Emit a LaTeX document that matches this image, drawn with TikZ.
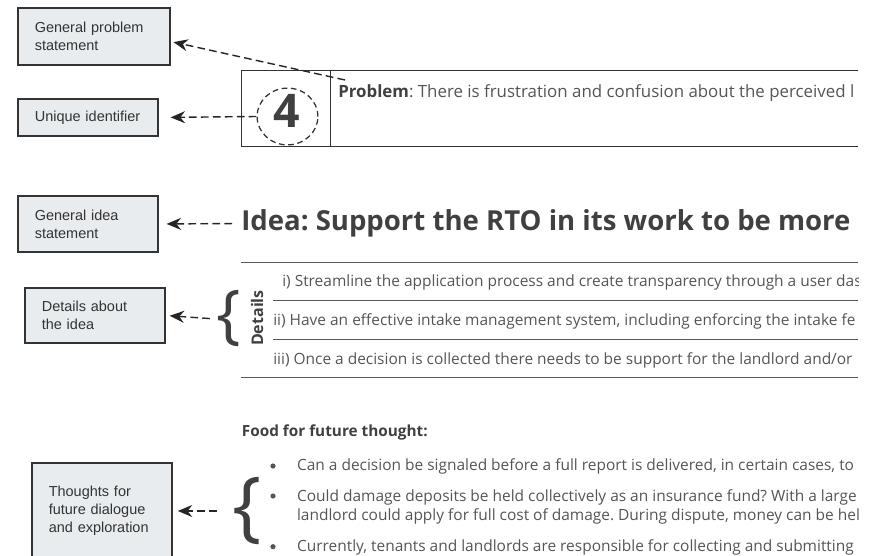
\documentclass[tikz,border=0pt]{standalone}
\usepackage{fontspec}
\setmainfont{Open Sans}
\newfontfamily\arialfont{Liberation Sans}
\usetikzlibrary{arrows.meta,shapes.geometric}
\frenchspacing

\definecolor{grigiobox}{RGB}{233,236,239}
\definecolor{bordo}{RGB}{51,51,51}
\definecolor{titolo}{RGB}{64,64,64}
\definecolor{corpo}{RGB}{85,85,85}
\definecolor{grigioriga}{RGB}{90,90,90}

\tikzset{
  riquadro/.style={draw=bordo, fill=grigiobox, line width=0.9pt, align=left,
    inner xsep=0.42cm, text width=2.66cm, text=bordo,
    font=\arialfont\fontsize{10.3}{12.8}\selectfont},
  freccia/.style={-{Stealth[length=3.6mm,width=3mm]}, line width=1pt,
    dash pattern=on 5.5pt off 3pt, draw=black!85},
  riga/.style={draw=grigioriga, line width=0.7pt},
  testo/.style={anchor=base west, inner sep=0, text=corpo,
    font=\fontsize{11}{13}\selectfont}
}

\begin{document}
\begin{tikzpicture}
    \useasboundingbox (0,0) rectangle (22.05,13.875);
    \clip (0,0) rectangle (22.05,13.875);

    % riquadri di spiegazione a sinistra
    \node[riquadro, text width=2.96cm, minimum height=1.425cm] (gps) at (2.35,12.9625) {General problem statement};
    \node[riquadro, minimum height=0.925cm] (uid) at (2.2,10.9375) {Unique identifier};
    \node[riquadro, minimum height=1.4cm] (gis) at (2.2,8.275) {General idea\\statement};
    \node[riquadro, minimum height=1.375cm] (dai) at (2.375,5.9875) {Details about\\the idea};
    \node[riquadro, minimum height=2.4cm] (tfd) at (2.55,1.1) {Thoughts for\\future dialogue\\and exploration};

    % tabella del problema
    \draw[riga, draw=bordo] (21.45,12.1075)--(6.025,12.1075)--(6.025,10.2075)--(21.45,10.2075);
    \draw[riga, draw=bordo] (8.25,12.1075)--(8.25,10.2075);
    \node[ellipse, draw=bordo, line width=0.9pt, dash pattern=on 4pt off 2.6pt,
        minimum width=1.52cm, minimum height=1.42cm] (circ) at (7.1875,10.9625) {};
    \node[inner sep=0, text=titolo, font=\bfseries\fontsize{33}{36}\selectfont] (num) at (7.16,11.11) {4};

    % tabella dei dettagli
    \draw[riga] (6.025,7.325)--(21.45,7.325);
    \draw[riga] (6.825,6.3625)--(21.45,6.3625);
    \draw[riga] (6.825,5.4)--(21.45,5.4);
    \draw[riga] (6.025,4.4375)--(21.45,4.4375);
    \node[rotate=90, anchor=base, inner sep=0, text=titolo, font=\bfseries\fontsize{11.4}{13}\selectfont] (det) at (6.575,5.925) {Details};

    % parentesi graffe
    \node[inner sep=0, text=titolo, font=\fontsize{46}{48}\selectfont] (br1) at (5.7125,5.9) {\{};
    \node[inner sep=0, text=titolo, font=\fontsize{55}{58}\selectfont] (br2) at (6.1875,1.1) {\{};

    %punti elenco
    \foreach \y in {2.225,1.475,0.2075}
        \fill[corpo] (6.825,\y) circle (0.065);

    % testi a destra
    \begin{scope}
    \clip (0,0) rectangle (21.45,13.875);
    \node[testo, font=\fontsize{12}{14}\selectfont] (prob) at (8.45,11.44) {\textcolor{titolo}{\textbf{Problem}}: There is frustration and confusion about the perceived l};
    \node[testo, inner xsep=0.225cm, text=titolo, font=\bfseries\fontsize{19.6}{23}\selectfont] (idea) at (5.8,8.1075) {Idea: Support the RTO in its work to be more};
    \node[testo] (it1) at (7.05,6.725) {i) Streamline the application process and create transparency through a user das};
    \node[testo] (it2) at (6.825,5.75) {ii) Have an effective intake management system, including enforcing the intake fe};
    \node[testo] (it3) at (6.825,4.775) {iii) Once a decision is collected there needs to be support for the landlord and/or};
    \node[testo, text=titolo, font=\bfseries\fontsize{10.9}{13}\selectfont] (food) at (6.04,2.957) {Food for future thought:};
    \node[testo] (fb1) at (7.42,2.125) {Can a decision be signaled before a full report is delivered, in certain cases, to};
    \node[testo] (fb2) at (7.42,1.35) {Could damage deposits be held collectively as an insurance fund? With a large};
    \node[testo] (fb3) at (7.42,0.857) {landlord could apply for full cost of damage. During dispute, money can be hel};
    \node[testo] (fb4) at (7.42,0.083) {Currently, tenants and landlords are responsible for collecting and submitting};
    \end{scope}

    % frecce tratteggiate
    \coordinate (pb) at (8.625,11.875);
    \draw[freccia] (pb) -- ([shift={(0.07,-0.14)}]gps.east);
    \draw[freccia, shorten >=0.3cm] (circ.west) -- (uid.east);
    \draw[freccia, shorten >=0.2cm] (idea.west) -- (gis.east);
    \draw[freccia, shorten <=0.15cm, shorten >=0.1cm] (br1.west) -- (dai.east);
    \draw[freccia, shorten <=0.4cm, shorten >=0.13cm] (br2.west) -- (tfd.east);
\end{tikzpicture}
\end{document}
